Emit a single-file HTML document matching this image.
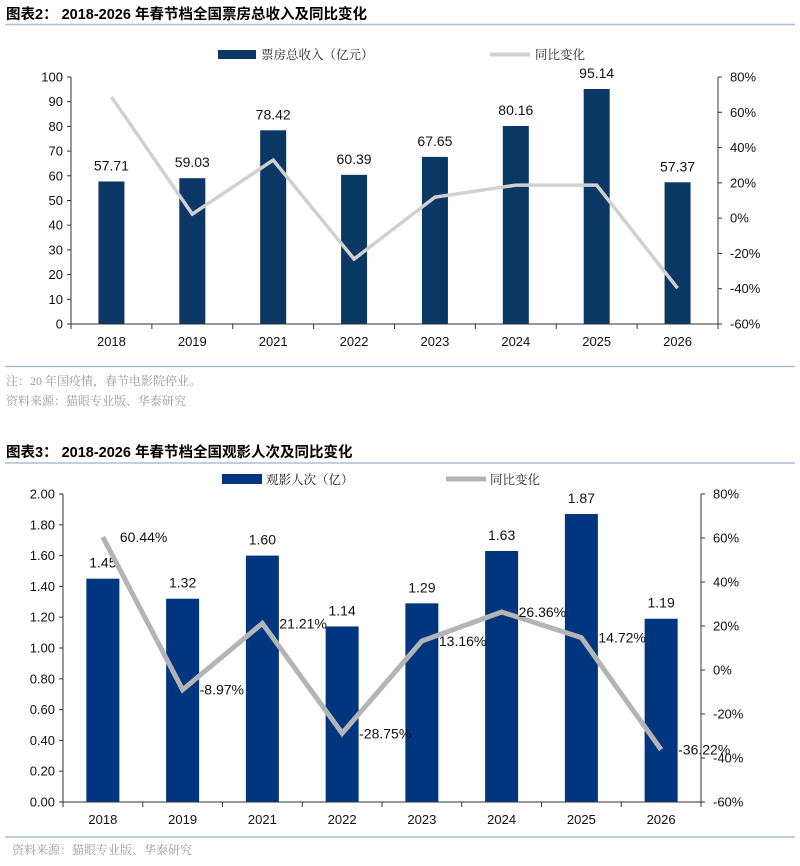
<!DOCTYPE html>
<html><head><meta charset="utf-8">
<style>
html,body{margin:0;padding:0;background:#fff;}
body{width:800px;height:861px;overflow:hidden;font-family:"Liberation Sans","Noto Sans CJK SC",sans-serif;}
svg text{font-family:"Liberation Sans","Noto Sans CJK SC",sans-serif;}
svg text.serif{font-family:"Liberation Serif","Noto Serif CJK SC",serif;}
</style></head>
<body>
<svg id="s" width="800" height="861" viewBox="0 0 800 861">
<text x="6" y="19" font-size="14.5" font-weight="bold" fill="#000">图表2：  2018-2026 年春节档全国票房总收入及同比变化</text>
<line x1="5" y1="24.5" x2="795" y2="24.5" stroke="#a8bfd8" stroke-width="1.5"/>
<rect x="218" y="50" width="38" height="9" fill="#0b3764"/>
<text class="serif" x="261" y="59" font-size="12.5" fill="#222">票房总收入（亿元）</text>
<line x1="490" y1="54.5" x2="530" y2="54.5" stroke="#d0d0d0" stroke-width="4"/>
<text class="serif" x="535" y="59" font-size="12.5" fill="#222">同比变化</text>
<g id="c1"></g>
<line x1="5" y1="366.5" x2="795" y2="366.5" stroke="#a8bfd8" stroke-width="1.5"/>
<text class="serif" x="6" y="385" font-size="12" fill="#9a9a9a">注：20 年国疫情，春节电影院停业。</text>
<text class="serif" x="6" y="405" font-size="12" fill="#9a9a9a">资料来源：猫眼专业版、华泰研究</text>

<text x="6" y="457" font-size="14.5" font-weight="bold" fill="#000">图表3：  2018-2026 年春节档全国观影人次及同比变化</text>
<line x1="5" y1="463" x2="795" y2="463" stroke="#a8bfd8" stroke-width="1.5"/>
<rect x="222" y="474" width="40" height="10" fill="#003580"/>
<text class="serif" x="266" y="484" font-size="12.5" fill="#222">观影人次（亿）</text>
<line x1="446" y1="479" x2="486" y2="479" stroke="#b4b4b4" stroke-width="5"/>
<text class="serif" x="490" y="484" font-size="12.5" fill="#222">同比变化</text>
<g id="c2"></g>
<line x1="5" y1="837" x2="795" y2="837" stroke="#a8bfd8" stroke-width="1.5"/>
<text class="serif" x="12" y="854" font-size="12" fill="#9a9a9a">资料来源：猫眼专业版、华泰研究</text>
</svg>
<script>
const categories1 = ["2018","2019","2021","2022","2023","2024","2025","2026"];
const revenue = [57.71,59.03,78.42,60.39,67.65,80.16,95.14,57.37];
const revenueYoy = [68.7,2.3,32.9,-23.2,11.9,18.7,18.7,-39.7];
const leftTicks1 = [0,10,20,30,40,50,60,70,80,90,100];
const rightTicks1 = [-60,-40,-20,0,20,40,60,80];

const categories2 = ["2018","2019","2021","2022","2023","2024","2025","2026"];
const admissions = [1.45,1.32,1.60,1.14,1.29,1.63,1.87,1.19];
const admissionsYoy = [60.44,-8.97,21.21,-28.75,13.16,26.36,14.72,-36.22];
const leftTicks2 = [0,0.2,0.4,0.6,0.8,1.0,1.2,1.4,1.6,1.8,2.0];
const rightTicks2 = [-60,-40,-20,0,20,40,60,80];

const NS="http://www.w3.org/2000/svg";
function mk(parent,tag,attrs,txt){const e=document.createElementNS(NS,tag);for(const k in attrs)e.setAttribute(k,attrs[k]);if(txt!==undefined)e.textContent=txt;parent.appendChild(e);return e;}

function draw(g,o){
  const L=o.left,R=o.right,T=o.top,B=o.bottom;
  const y=v=>B-(v-o.lmin)/(o.lmax-o.lmin)*(B-T);
  const y2=v=>B-(v-o.rmin)/(o.rmax-o.rmin)*(B-T);
  const bw=(R-L)/o.cats.length;
  const cx=i=>L+bw*(i+0.5);
  let a=mk(g,"line",{x1:L,y1:T,x2:L,y2:B,stroke:"#333","stroke-width":1});
  
  
  a=mk(g,"line",{x1:R,y1:T,x2:R,y2:B,stroke:"#333","stroke-width":1});
  
  
  o.lt.forEach(v=>{
    mk(g,"line",{x1:L-4,y1:y(v),x2:L,y2:y(v),stroke:"#333"});
    const t=mk(g,"text",{x:L-8,y:y(v)+4.5,"font-size":13,"text-anchor":"end",fill:"#111"},o.lf(v));
    
    
  });
  o.rt.forEach(v=>{
    mk(g,"line",{x1:R,y1:y2(v),x2:R+4,y2:y2(v),stroke:"#333"});
    const t=mk(g,"text",{x:R+12,y:y2(v)+4.5,"font-size":13,fill:"#111"},v+"%");
    
    
  });
  o.cats.forEach((c,i)=>{
    mk(g,"line",{x1:L+bw*i,y1:B,x2:L+bw*i,y2:B+5,stroke:"#333"});
    const bar=mk(g,"rect",{x:cx(i)-o.barW/2,y:y(o.vals[i]),width:o.barW,height:B-y(o.vals[i]),fill:o.barColor});
    
    
    const t=mk(g,"text",{x:cx(i),y:B+22,"font-size":13,"text-anchor":"middle",fill:"#111"},c);
    
    
    const v=mk(g,"text",{x:cx(i),y:y(o.vals[i])-11,"font-size":14,"text-anchor":"middle",fill:"#111"},o.vf(o.vals[i]));
    
    
  });
  mk(g,"line",{x1:R,y1:B,x2:R,y2:B+5,stroke:"#333"});
  const base=mk(g,"line",{x1:L,y1:B,x2:R,y2:B,stroke:"#333","stroke-width":1});
  
  
  const pts=o.yoy.map((v,i)=>cx(i)+","+y2(v)).join(" ");
  const pl=mk(g,"polyline",{points:pts,fill:"none",stroke:o.lineColor,"stroke-width":o.lineW,"stroke-linejoin":"miter"});
  
  
  if(o.yoyLabels){
    o.yoy.forEach((v,i)=>{
      const t=mk(g,"text",{x:cx(i)+17,y:y2(v)+5,"font-size":14,fill:"#111"},v.toFixed(2)+"%");
      
      
    });
  }
}
draw(document.getElementById("c1"),{left:71,right:718,top:77,bottom:324,lmin:0,lmax:100,rmin:-60,rmax:80,
  cats:categories1,vals:revenue,yoy:revenueYoy,lt:leftTicks1,rt:rightTicks1,barW:26,barColor:"#0b3764",
  lineColor:"#d0d0d0",lineW:3.5,lf:v=>String(v),vf:v=>v.toFixed(2),yoyLabels:false});
draw(document.getElementById("c2"),{left:63,right:701,top:494,bottom:802,lmin:0,lmax:2,rmin:-60,rmax:80,
  cats:categories2,vals:admissions,yoy:admissionsYoy,lt:leftTicks2,rt:rightTicks2,barW:33,barColor:"#003580",
  lineColor:"#b4b4b4",lineW:5,lf:v=>v.toFixed(2),vf:v=>v.toFixed(2),yoyLabels:true});
</script>
</body></html>
